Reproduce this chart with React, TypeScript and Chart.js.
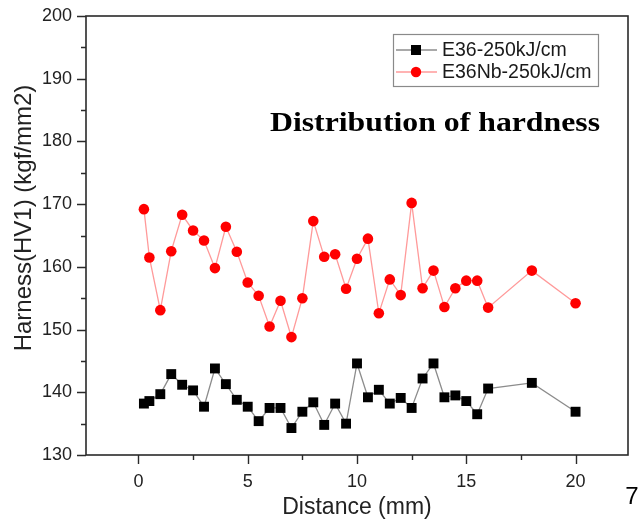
import React, { useEffect, useRef } from "react";
import { Chart, registerables } from "chart.js";

Chart.register(...registerables);

// ---------- data ----------
const distance = [
  0.25, 0.5, 1, 1.5, 2, 2.5, 3, 3.5, 4, 4.5,
  5, 5.5, 6, 6.5, 7, 7.5, 8, 8.5, 9, 9.5,
  10, 10.5, 11, 11.5, 12, 12.5, 13, 13.5, 14, 14.5,
  15, 15.5, 16, 18, 20,
];
const hardnessE36 = [
  138.2, 138.6, 139.7, 142.9, 141.2, 140.3, 137.7, 143.8, 141.3, 138.8,
  137.7, 135.4, 137.5, 137.5, 134.3, 136.9, 138.4, 134.8, 138.2, 135.0,
  144.6, 139.2, 140.4, 138.2, 139.1, 137.5, 142.2, 144.6, 139.2, 139.5,
  138.6, 136.5, 140.6, 141.5, 136.9,
];
const hardnessE36Nb = [
  169.2, 161.5, 153.1, 162.5, 168.3, 165.8, 164.2, 159.8, 166.4, 162.4,
  157.5, 155.4, 150.5, 154.6, 148.8, 155.0, 167.3, 161.6, 162.0, 156.5,
  161.3, 164.5, 152.6, 158.0, 155.5, 170.2, 156.6, 159.4, 153.6, 156.6,
  157.8, 157.8, 153.5, 159.4, 154.2,
];
const seriesLabels = ["E36-250kJ/cm", "E36Nb-250kJ/cm"];
const xMajorTicks = [0, 5, 10, 15, 20];
const xMinorTicks = [2.5, 7.5, 12.5, 17.5];
const yMajorTicks = [130, 140, 150, 160, 170, 180, 190, 200];
const yMinorTicks = [135, 145, 155, 165, 175, 185, 195];
const chartTitle = "Distribution of hardness";
const xTitle = "Distance (mm)";
const yTitle = "Harness(HV1) (kgf/mm2)";
const pageNumber = "7";

const SANS = "'Liberation Sans', Arial, sans-serif";
const SERIF = "'Liberation Serif', 'Times New Roman', serif";

const decorPlugin = {
  id: "decor",
  afterDraw(chart: any) {
    const { ctx, chartArea } = chart;
    const { left, right, top, bottom } = chartArea;
    const xs = chart.scales.x;
    const ys = chart.scales.y;
    ctx.save();
    // frame
    ctx.strokeStyle = "#2a2a2a";
    ctx.lineWidth = 1.6;
    ctx.strokeRect(left, top, right - left, bottom - top);
    // ticks
    ctx.lineWidth = 1.4;
    ctx.beginPath();
    for (const v of yMajorTicks) {
      const y = Math.round(ys.getPixelForValue(v)) + 0.5;
      ctx.moveTo(left - 9, y);
      ctx.lineTo(left, y);
    }
    for (const v of yMinorTicks) {
      const y = Math.round(ys.getPixelForValue(v)) + 0.5;
      ctx.moveTo(left - 5, y);
      ctx.lineTo(left, y);
    }
    for (const v of xMajorTicks) {
      const x = Math.round(xs.getPixelForValue(v)) + 0.5;
      ctx.moveTo(x, bottom);
      ctx.lineTo(x, bottom + 9);
    }
    for (const v of xMinorTicks) {
      const x = Math.round(xs.getPixelForValue(v)) + 0.5;
      ctx.moveTo(x, bottom);
      ctx.lineTo(x, bottom + 5);
    }
    ctx.stroke();

    // y title
    ctx.fillStyle = "#222";
    ctx.font = `24px ${SANS}`;
    ctx.textAlign = "center";
    ctx.textBaseline = "middle";
    ctx.translate(24, 218);
    ctx.rotate(-Math.PI / 2);
    ctx.fillText(yTitle, 0, 0);
    ctx.setTransform(1, 0, 0, 1, 0, 0);

    // legend
    const lx = 393, ly = 34, lw = 205, lh = 52;
    ctx.fillStyle = "#fff";
    ctx.fillRect(lx, ly, lw, lh);
    ctx.strokeStyle = "#8a8a8a";
    ctx.lineWidth = 1.2;
    ctx.strokeRect(lx + 0.5, ly + 0.5, lw, lh);
    const rows = [50, 72];
    chart.data.datasets.forEach((ds: any, i: number) => {
      const ry = rows[i];
      ctx.strokeStyle = ds.borderColor;
      ctx.lineWidth = ds.borderWidth;
      ctx.beginPath();
      ctx.moveTo(396, ry);
      ctx.lineTo(437, ry);
      ctx.stroke();
      ctx.fillStyle = ds.pointBackgroundColor;
      if (ds.pointStyle === "rect") {
        ctx.fillRect(411, ry - 5, 10, 10);
      } else {
        ctx.beginPath();
        ctx.arc(416, ry, 5.2, 0, Math.PI * 2);
        ctx.fill();
      }
      ctx.fillStyle = "#1a1a1a";
      ctx.font = `19.5px ${SANS}`;
      ctx.textAlign = "left";
      ctx.textBaseline = "middle";
      ctx.fillText(ds.label, 442, ry + 1);
    });

    // chart title (stretched horizontally to match the reference width)
    ctx.fillStyle = "#000";
    ctx.font = `bold 27px ${SERIF}`;
    ctx.textAlign = "left";
    ctx.textBaseline = "alphabetic";
    const w = ctx.measureText(chartTitle).width;
    const sx = 330 / w;
    ctx.translate(270, 131);
    ctx.scale(sx, 1);
    ctx.fillText(chartTitle, 0, 0);
    ctx.setTransform(1, 0, 0, 1, 0, 0);

    // page number
    ctx.font = `24px ${SANS}`;
    ctx.textAlign = "center";
    ctx.textBaseline = "middle";
    ctx.fillText(pageNumber, 632, 497);
    ctx.restore();
  },
};

export default function App() {
  const ref = useRef<HTMLCanvasElement | null>(null);
  useEffect(() => {
    if (!ref.current) return;
    const chart = new Chart(ref.current, {
      type: "line",
      data: {
        datasets: [
          {
            label: seriesLabels[0],
            data: distance.map((d, i) => ({ x: d, y: hardnessE36[i] })),
            borderColor: "#8c8c8c",
            borderWidth: 1.3,
            pointStyle: "rect",
            pointRadius: 7,
            pointBackgroundColor: "#000000",
            pointBorderColor: "#000000",
            pointBorderWidth: 0,
            tension: 0,
          },
          {
            label: seriesLabels[1],
            data: distance.map((d, i) => ({ x: d, y: hardnessE36Nb[i] })),
            borderColor: "#ff9a9a",
            borderWidth: 1.3,
            pointStyle: "circle",
            pointRadius: 5.3,
            pointBackgroundColor: "#ff0000",
            pointBorderColor: "#ff0000",
            pointBorderWidth: 0,
            tension: 0,
          },
        ],
      },
      options: {
        responsive: false,
        animation: false,
        devicePixelRatio: 1,
        layout: { padding: { top: 16, right: 11, left: 0, bottom: 0 } },
        plugins: { legend: { display: false }, tooltip: { enabled: false } },
        scales: {
          x: {
            type: "linear",
            min: -2.4,
            max: 22.4,
            grid: { display: false, drawTicks: false },
            border: { display: false },
            afterBuildTicks: (s: any) => {
              s.ticks = xMajorTicks.map((v) => ({ value: v }));
            },
            afterFit: (s: any) => {
              s.height = 68;
              s.paddingLeft = 0;
              s.paddingRight = 0;
            },
            ticks: {
              autoSkip: false,
              maxRotation: 0,
              padding: 16,
              color: "#222",
              font: { family: SANS, size: 18 },
              callback: (v: any) => String(v),
            },
            title: {
              display: true,
              text: xTitle,
              color: "#222",
              font: { family: SANS, size: 23 },
              padding: { top: 0, bottom: 2 },
            },
          },
          y: {
            type: "linear",
            min: 130,
            max: 200,
            grid: { display: false, drawTicks: false },
            border: { display: false },
            afterBuildTicks: (s: any) => {
              s.ticks = yMajorTicks.map((v) => ({ value: v }));
            },
            afterFit: (s: any) => {
              s.width = 86;
              s.paddingTop = 0;
              s.paddingBottom = 0;
            },
            ticks: {
              autoSkip: false,
              padding: 14,
              color: "#222",
              font: { family: SANS, size: 18 },
              callback: (v: any) => String(v),
            },
          },
        },
      },
      plugins: [decorPlugin],
    });
    return () => chart.destroy();
  }, []);
  return (
    <div style={{ position: "absolute", left: 0, top: 0, width: 639, height: 523, background: "#fff" }}>
      <canvas ref={ref} width={639} height={523} />
    </div>
  );
}
